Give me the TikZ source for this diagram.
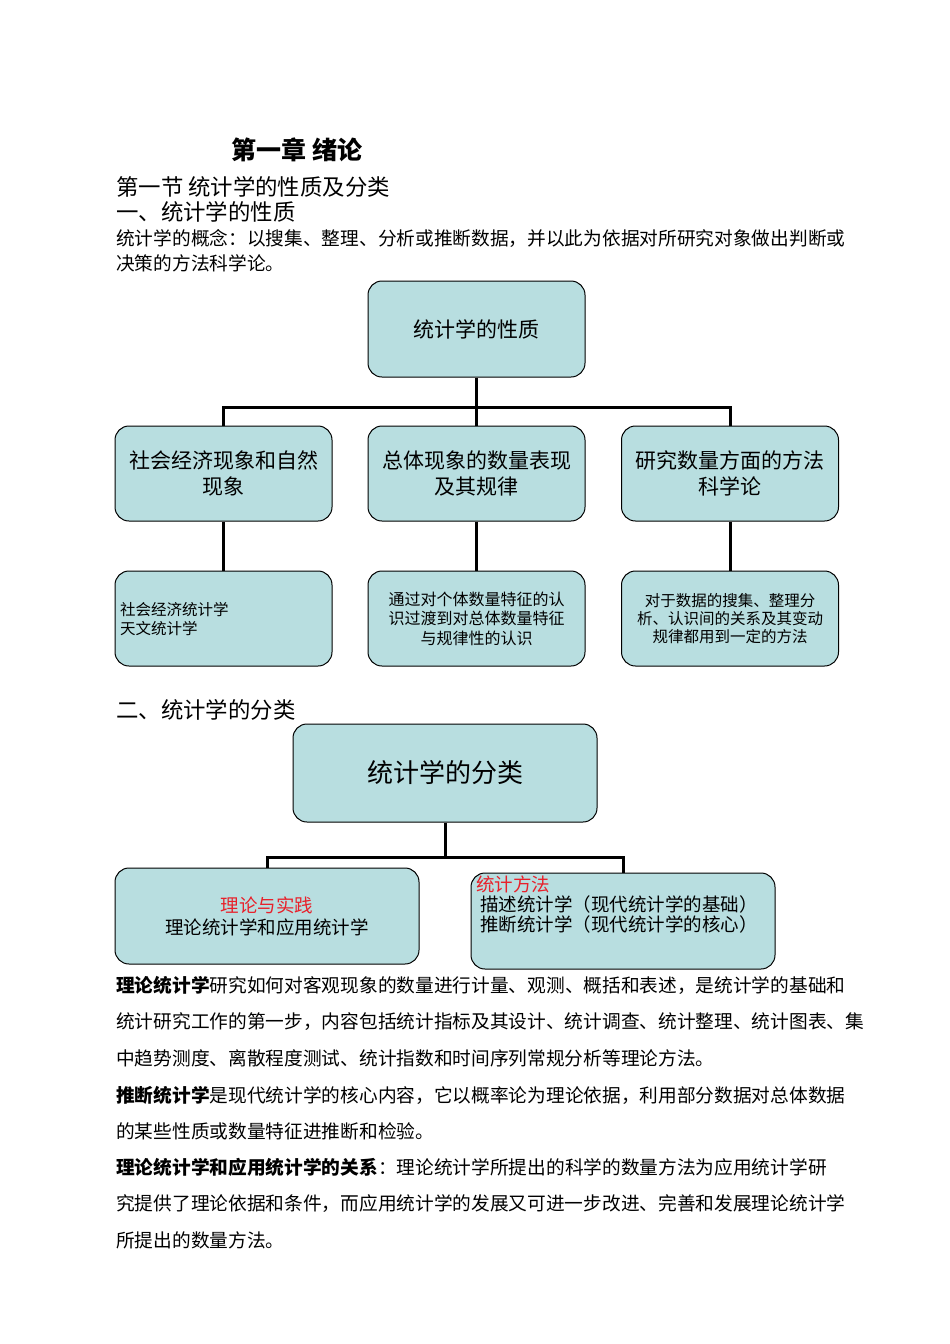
\documentclass[tikz,border=0pt]{standalone}
\usepackage{fontspec}
\setmainfont{Noto Sans CJK SC}
\definecolor{boxc}{HTML}{B8DEE0}
\definecolor{redc}{HTML}{E8202A}
\begin{document}
\begin{tikzpicture}[x=1pt,y=-1pt,
  bx/.style={draw=black,line width=1pt,fill=boxc,rounded corners=14pt,align=center,inner sep=0pt},
  conn/.style={line width=3pt},
  txt/.style={anchor=west,inner sep=0pt},
  para/.style={txt,font=\fontsize{18.7}{22}\selectfont}]
\useasboundingbox[fill=white] (0,0) rectangle (950,1344);
\node[inner sep=0pt,font=\fontsize{25}{28}\selectfont\bfseries] (t1) at (297,150) {第一章 绪论};
\node[txt,font=\fontsize{22.4}{24}\selectfont] (t2) at (116,187) {第一节 统计学的性质及分类};
\node[txt,font=\fontsize{22.4}{24}\selectfont] (t3) at (116,212) {一、统计学的性质};
\node[para] (t4) at (116,238) {统计学的概念：以搜集、整理、分析或推断数据，并以此为依据对所研究对象做出判断或};
\node[para] (t5) at (116,263) {决策的方法科学论。};
% first tree
\node[bx,minimum width=217pt,minimum height=96pt,font=\fontsize{21}{25}\selectfont] (a0) at (476.5,329) {统计学的性质};
\foreach \n/\x/\t in {a1/223.5/{社会经济现象和自然\\现象},a2/476.5/{总体现象的数量表现\\及其规律},a3/730/{研究数量方面的方法\\科学论}}
  \node[bx,minimum width=217pt,minimum height=95pt,font=\fontsize{21}{26}\selectfont] (\n) at (\x,473.5) {\t};
\node[bx,minimum width=217pt,minimum height=95pt] (b1) at (223.5,618.5) {};
\node[anchor=west,align=left,inner sep=0pt,font=\fontsize{15.5}{19}\selectfont] (b1t) at (120,619) {社会经济统计学\\天文统计学};
\node[bx,minimum width=217pt,minimum height=95pt,font=\fontsize{16}{19.5}\selectfont] (b2) at (476.5,618.5) {通过对个体数量特征的认\\识过渡到对总体数量特征\\与规律性的认识};
\node[bx,minimum width=217pt,minimum height=95pt,font=\fontsize{15.5}{18}\selectfont] (b3) at (730,618.5) {对于数据的搜集、整理分\\析、认识间的关系及其变动\\规律都用到一定的方法};
\coordinate (j0) at (476.5,407);
\draw[conn] (a0.south) -- (j0);
\draw[conn] (a1.north) |- (j0) -| (a3.north);
\draw[conn] (j0) -- (a2.north);
\foreach \i in {1,2,3} \draw[conn] (a\i.south) -- (b\i.north);
% second tree
\node[txt,font=\fontsize{22.4}{24}\selectfont] (t6) at (116,710) {二、统计学的分类};
\node[bx,minimum width=304pt,minimum height=98pt,font=\fontsize{26}{30}\selectfont] (c0) at (445,773) {统计学的分类};
\node[bx,minimum width=304pt,minimum height=96pt,font=\fontsize{18.5}{22}\selectfont] (c1) at (267,916) {{\color{redc}理论与实践}\\理论统计学和应用统计学};
\node[bx,minimum width=304pt,minimum height=96pt] (c2) at (623,921) {};
\node[anchor=north west,align=left,inner sep=0pt,font=\fontsize{18.5}{20}\selectfont] (c2t) at (476,876) {{\color{redc}统计方法}\\\ 描述统计学（现代统计学的基础）\\\ 推断统计学（现代统计学的核心）};
\coordinate (j1) at (445,857);
\draw[conn] (c0.south) -- (j1);
\draw[conn] (c1.north) |- (j1) -| (c2.north);
% paragraphs
\node[para] (p1) at (116,985) {{\bfseries 理论统计学}研究如何对客观现象的数量进行计量、观测、概括和表述，是统计学的基础和};
\node[para] (p2) at (116,1022) {统计研究工作的第一步，内容包括统计指标及其设计、统计调查、统计整理、统计图表、集};
\node[para] (p3) at (116,1058) {中趋势测度、离散程度测试、统计指数和时间序列常规分析等理论方法。};
\node[para] (p4) at (116,1095) {{\bfseries 推断统计学}是现代统计学的核心内容，它以概率论为理论依据，利用部分数据对总体数据};
\node[para] (p5) at (116,1131) {的某些性质或数量特征进推断和检验。};
\node[para] (p6) at (116,1167) {{\bfseries 理论统计学和应用统计学的关系}：理论统计学所提出的科学的数量方法为应用统计学研};
\node[para] (p7) at (116,1204) {究提供了理论依据和条件，而应用统计学的发展又可进一步改进、完善和发展理论统计学};
\node[para] (p8) at (116,1240) {所提出的数量方法。};
\end{tikzpicture}
\end{document}
